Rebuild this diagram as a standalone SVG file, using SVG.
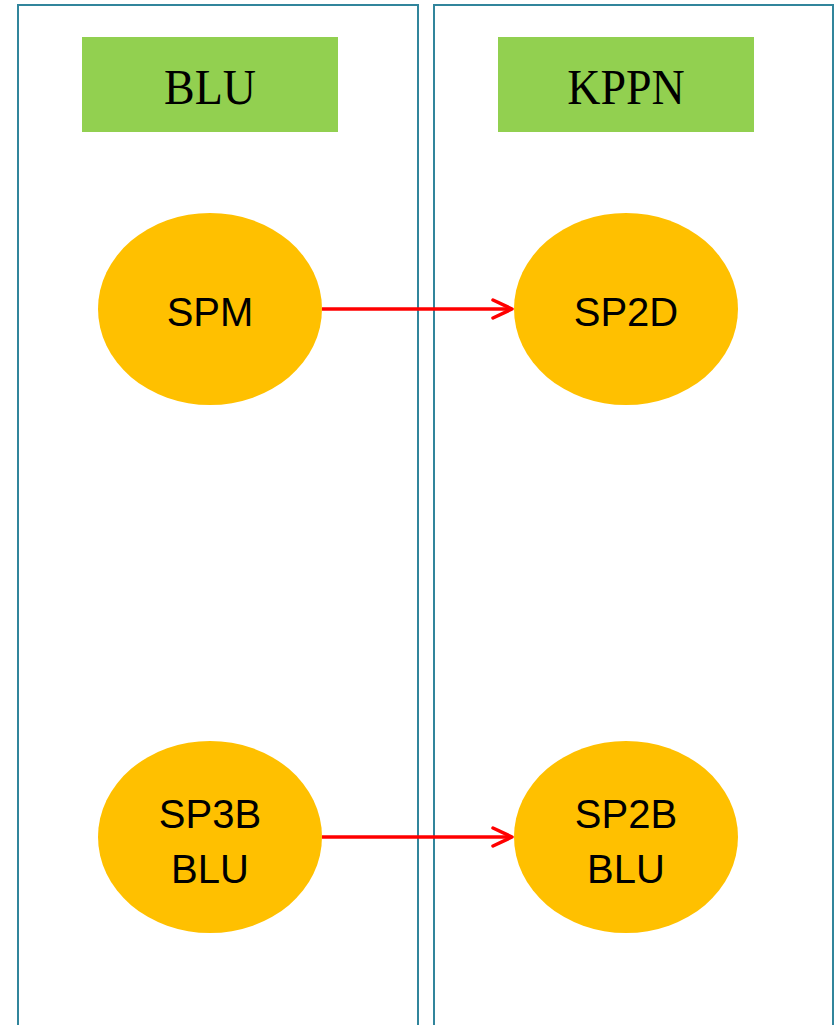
<svg xmlns="http://www.w3.org/2000/svg" width="839" height="1025" viewBox="0 0 839 1025">
<defs>
<style>
.lane{fill:none;stroke:#31859C;stroke-width:2}
.hdr{fill:#92D050}
.hdrt{font-family:"Liberation Serif",serif;font-size:50px;fill:#000;text-anchor:middle}
.node{fill:#FFC000}
.nt{font-family:"Liberation Sans",sans-serif;font-size:40px;fill:#000;text-anchor:middle}
.conn{stroke:#FF0000;stroke-width:3.5;fill:none}
</style>
<marker id="arr" markerWidth="24" markerHeight="24" refX="21" refY="12" orient="auto" markerUnits="userSpaceOnUse" viewBox="0 0 24 24">
<path d="M2,3 L21,12 L2,21" fill="none" stroke="#FF0000" stroke-width="3.5" stroke-linecap="round" stroke-linejoin="round"/>
</marker>
</defs>
<rect width="839" height="1025" fill="#fff"/>
<g id="lane-blu">
<path class="lane" d="M18,1030 V5 H418 V1030"/>
</g>
<g id="lane-kppn">
<path class="lane" d="M434,1030 V5 H833 V1030"/>
</g>
<g id="hdr-blu">
<rect class="hdr" x="82" y="37" width="256" height="95"/>
<text class="hdrt" x="210" y="104" transform="translate(210 0) scale(0.92 1) translate(-210 0)">BLU</text>
</g>
<g id="hdr-kppn">
<rect class="hdr" x="498" y="37" width="256" height="95"/>
<text class="hdrt" x="626" y="104" transform="translate(626 0) scale(0.92 1) translate(-626 0)">KPPN</text>
</g>
<g id="connectors">
<line class="conn" x1="322" y1="309" x2="512" y2="309" marker-end="url(#arr)"/>
<line class="conn" x1="322" y1="837" x2="512" y2="837" marker-end="url(#arr)"/>
</g>
<g id="spm">
<ellipse class="node" cx="210" cy="309" rx="112" ry="96"/>
<text class="nt" x="210" y="326">SPM</text>
</g>
<g id="sp2d">
<ellipse class="node" cx="626" cy="309" rx="112" ry="96"/>
<text class="nt" x="626" y="326">SP2D</text>
</g>
<g id="sp3b">
<ellipse class="node" cx="210" cy="837" rx="112" ry="96"/>
<text class="nt" x="210" y="828">SP3B</text>
<text class="nt" x="210" y="883">BLU</text>
</g>
<g id="sp2b">
<ellipse class="node" cx="626" cy="837" rx="112" ry="96"/>
<text class="nt" x="626" y="828">SP2B</text>
<text class="nt" x="626" y="883">BLU</text>
</g>
</svg>
